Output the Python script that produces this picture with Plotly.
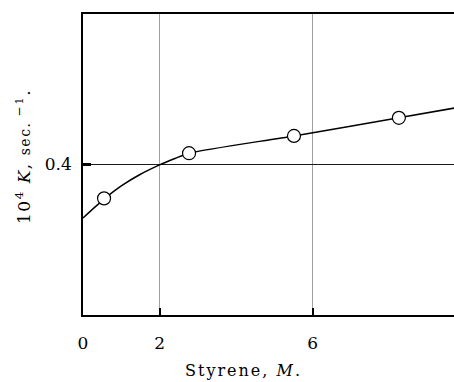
import plotly.graph_objects as go

# Measured rate constants vs styrene concentration
styrene = [0.55, 2.77, 5.51, 8.25]
rate_k = [0.355, 0.415, 0.438, 0.462]

# Smooth fitted curve drawn through the measurements
curve_x = [0.0, 0.55, 1.0, 1.5, 2.0, 2.4, 2.77, 5.51, 8.25, 9.7]
curve_y = [0.329, 0.354, 0.3715, 0.387, 0.3995, 0.408, 0.415, 0.438, 0.462, 0.475]

x_ticks = [0, 2, 6]
y_ticks = [0.4]

serif = "DejaVu Serif"

fig = go.Figure()
fig.add_trace(go.Scatter(
    x=curve_x, y=curve_y, mode="lines",
    line=dict(color="black", width=1.5, shape="spline", smoothing=0.7),
    hoverinfo="skip", showlegend=False,
))
fig.add_trace(go.Scatter(
    x=styrene, y=rate_k, mode="markers",
    marker=dict(symbol="circle", size=13, color="white",
                line=dict(color="black", width=1.2)),
    showlegend=False,
))

fig.update_layout(
    width=454, height=382,
    margin=dict(l=83, r=0, t=14, b=67),
    paper_bgcolor="white", plot_bgcolor="white",
    font=dict(family=serif, size=16, color="black"),
    xaxis=dict(
        range=[0, 9.69], tickvals=x_ticks, ticktext=[str(v) for v in x_ticks],
        showgrid=True, gridcolor="#a0a0a0", gridwidth=1.2,
        showline=True, linecolor="black", linewidth=1.5, mirror=True,
        ticks="inside", ticklen=7, tickwidth=2, tickcolor="black",
        ticklabelstandoff=12, zeroline=False,
        tickfont=dict(family=serif, size=17),
    ),
    yaxis=dict(
        range=[0.2, 0.6], tickvals=y_ticks, ticktext=["0.4"],
        showgrid=True, gridcolor="#1a1a1a", gridwidth=1.3,
        showline=True, linecolor="black", linewidth=1.5, mirror=False,
        ticks="inside", ticklen=8, tickwidth=3, tickcolor="black",
        ticklabelstandoff=6, zeroline=False,
        tickfont=dict(family=serif, size=17),
    ),
    annotations=[
        dict(
            text="<span style='letter-spacing:2px'>Styrene, <i>M</i>.</span>",
            xref="x", yref="paper", x=4.18, y=0, yshift=-55,
            xanchor="center", yanchor="middle", showarrow=False,
            font=dict(family=serif, size=16),
        ),
        dict(
            text=("<span style='letter-spacing:1.5px'>10<sup>4</sup> <i>K</i>, "
                  "<span style='font-size:14px'>sec.</span><sup> \u22121</sup>.</span>"),
            xref="paper", yref="paper", x=0, xshift=-60, y=0.525,
            xanchor="center", yanchor="middle", textangle=-90, showarrow=False,
            font=dict(family=serif, size=17),
        ),
    ],
)

fig.write_html("out.html")
